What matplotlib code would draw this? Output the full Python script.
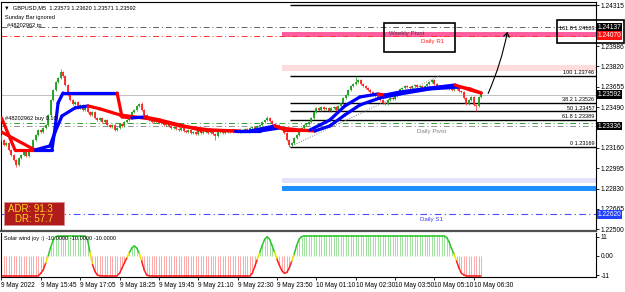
import matplotlib
matplotlib.use("Agg")
import matplotlib.pyplot as plt
from matplotlib.patches import Rectangle, FancyArrowPatch

plt.rcParams["font.family"] = ["Liberation Sans", "DejaVu Sans"]

W, H = 625, 292

# ---- candles (M5 closes, bar 0 = 9 May 14:25) ----
first_open = 1.23260
closes = [
    1.23224, 1.23184, 1.23200, 1.23143,
    1.23103, 1.23062, 1.23021, 1.23078,
    1.23103, 1.23127, 1.23094, 1.23143,
    1.23159, 1.23224, 1.23265, 1.23305,
    1.23289, 1.23322, 1.23346, 1.23427,
    1.23549, 1.23630, 1.23695, 1.23727,
    1.23776, 1.23743, 1.23670, 1.23589,
    1.23549, 1.23516, 1.23532, 1.23484,
    1.23508, 1.23468, 1.23484, 1.23451,
    1.23427, 1.23451, 1.23403, 1.23386,
    1.23403, 1.23370, 1.23386, 1.23346,
    1.23330, 1.23346, 1.23305, 1.23322,
    1.23354, 1.23338, 1.23370, 1.23386,
    1.23403, 1.23451, 1.23468, 1.23500,
    1.23516, 1.23468, 1.23427, 1.23403,
    1.23386, 1.23370, 1.23403, 1.23378,
    1.23362, 1.23378, 1.23346, 1.23354,
    1.23338, 1.23322, 1.23330, 1.23314,
    1.23305, 1.23322, 1.23297, 1.23289,
    1.23305, 1.23281, 1.23289, 1.23273,
    1.23297, 1.23281, 1.23289, 1.23305,
    1.23281, 1.23297, 1.23273, 1.23257,
    1.23289, 1.23297, 1.23281, 1.23289,
    1.23297, 1.23289, 1.23305, 1.23297,
    1.23289, 1.23305, 1.23297, 1.23314,
    1.23305, 1.23322, 1.23330, 1.23314,
    1.23338, 1.23346, 1.23370, 1.23386,
    1.23403, 1.23378, 1.23354, 1.23338,
    1.23346, 1.23330, 1.23322, 1.23281,
    1.23224, 1.23184, 1.23200, 1.23240,
    1.23265, 1.23305, 1.23322, 1.23346,
    1.23354, 1.23370, 1.23403, 1.23451,
    1.23484, 1.23468, 1.23492, 1.23476,
    1.23484, 1.23459, 1.23484, 1.23492,
    1.23468, 1.23500, 1.23524, 1.23565,
    1.23589, 1.23630, 1.23662, 1.23678,
    1.23695, 1.23711, 1.23678, 1.23662,
    1.23646, 1.23630, 1.23613, 1.23589,
    1.23581, 1.23565, 1.23549, 1.23524,
    1.23516, 1.23549, 1.23565, 1.23557,
    1.23581, 1.23613, 1.23638, 1.23646,
    1.23662, 1.23654, 1.23646, 1.23662,
    1.23670, 1.23654, 1.23662, 1.23646,
    1.23662, 1.23678, 1.23695, 1.23711,
    1.23678, 1.23662, 1.23654, 1.23646,
    1.23662, 1.23646, 1.23638, 1.23630,
    1.23638, 1.23646, 1.23622, 1.23613,
    1.23565, 1.23516, 1.23549, 1.23573,
    1.23508, 1.23500, 1.23573, 1.23592,
]
# long wicks
spike_bars = [6, 24, 57, 87, 108, 117, 144, 193, 195]
spike_prices = [1.23005, 1.23800, 1.23530, 1.23224, 1.23420, 1.23169, 1.23746, 1.23460, 1.23620]
wick = 0.00006

# ---- trend lines (vertices: bar, price, colour of segment) ----
fast_x = [0, 5.5, 13.6, 20.5, 21.8, 23, 25, 47, 49, 53, 58.3, 64.4, 80.7, 94.9, 101, 111.2,
          115.3, 125.4, 133.5, 139.6, 145.7, 153.1, 155.9, 162, 174.2, 184.4, 190.5, 195]
fast_y = [1.23403, 1.23143, 1.23143, 1.23143, 1.23322, 1.23524, 1.23605, 1.23605, 1.23411,
          1.23403, 1.23411, 1.23386, 1.23305, 1.23297, 1.23297, 1.23338, 1.23305, 1.23305,
          1.23386, 1.23500, 1.23573, 1.23597, 1.23589, 1.23613, 1.23646, 1.23670, 1.23630, 1.23605]
fast_c = "rrrbbbbbrrbrrrbbrrbbbbrbbbrr"
slow_x = [0, 13.6, 19.7, 21.8, 24.6, 29.9, 35.2, 40.1, 48.2, 60.4, 72.6, 84.8, 97, 105.1,
          113.2, 121.3, 127.4, 133.5, 139.6, 145.7, 153.9, 162, 174.2, 186.4, 190.5, 195]
slow_y = [1.23289, 1.23143, 1.23176, 1.23289, 1.23419, 1.23484, 1.23500, 1.23476, 1.23427,
          1.23395, 1.23338, 1.23305, 1.23297, 1.23297, 1.23322, 1.23305, 1.23297, 1.23338,
          1.23427, 1.23508, 1.23565, 1.23597, 1.23638, 1.23654, 1.23638, 1.23605]
slow_c = "rrbbbbbrrrrrrbbrrbbbbbbbrr"

# ---- levels ----
fib_names = ["100", "38.2", "50", "61.8", "0"]
fib_levels = [1.23746, 1.23526, 1.23457, 1.23389, 1.23169]
fib_top = 1.24317
fib_anchor_x = [117.3, 178.3]
fib_anchor_y = [1.23169, 1.23746]
tp_level = 1.24137
r1_level = 1.24070
bid_level = 1.23592
order_level = 1.23358
pivot_level = 1.23336
s1_level = 1.22620
zones = [(1.24060, 1.24100, "#ff5f9f"), (1.23784, 1.23832, "#ffdcdc"),
         (1.22875, 1.22916, "#e2e2fa"), (1.22813, 1.22854, "#1e8fff")]
price_ticks = [1.24315, 1.23986, 1.23820, 1.23655, 1.23490, 1.23160, 1.22995, 1.22830,
               1.22665, 1.22500]

# ---- Solar wind joy ----
solar = ([-11.4] * 16 + [-10, -8, -4, 0, 5, 9, 11] + [11.4] * 12 + [9, 2, -5, -9, -11]
         + [-11.4] * 8 + [-10, -7, -4, -1, 2, 4.5, 5.7, 4.5, 1.5, -3, -8, -11]
         + [-11.4] * 42
         + [-10, -6, -2, 2, 6, 9.5, 11, 9.5, 6, 2, -2, -5.5, -8.5, -10, -9.5, -7, -3, 1, 6, 9.5, 11]
         + [11.4] * 58 + [10.5, 8, 4, 1, -3, -7, -10, -11] + [-11.4] * 7)

time_labels = ["9 May 2022", "9 May 15:45", "9 May 17:05", "9 May 18:25", "9 May 19:45",
               "9 May 21:10", "9 May 22:30", "9 May 23:50", "10 May 01:10", "10 May 02:30",
               "10 May 03:50", "10 May 05:10", "10 May 06:30"]
time_bars = [0, 16, 32, 48, 64, 80, 96, 112, 128, 144, 160, 176, 192]

FS = 4.8      # axis labels
FT = 4.1      # small chart texts
fig = plt.figure(figsize=(W / 100, H / 100), dpi=100)
fig.patch.set_facecolor("white")


def fx(px):
    return px / W


def fy(py):
    return 1 - py / H


XL, XR = -0.4, 241.7
ax = fig.add_axes([fx(0.5), fy(231), 595.5 / W, 229 / H])
ind = fig.add_axes([fx(0.5), fy(277.3), 595.5 / W, 44.3 / H])
ax.set_xlim(XL, XR)
ax.set_ylim(1.22486, 1.24343)
ind.set_xlim(XL, XR)
ind.set_ylim(-12.3, 13.1)

# zones and levels
for lo, hi, col in zones:
    ax.fill_between([114.0, XR], lo, hi, color=col, lw=0, zorder=1)
dd = (6, 3, 1, 3)
ax.axhline(bid_level, color="#c0c0c0", lw=0.7, zorder=1)
ax.axhline(tp_level, color="#606060", lw=0.7, dashes=dd, zorder=2)
ax.axhline(r1_level, color="#ff3030", lw=0.7, dashes=dd, zorder=2)
ax.axhline(order_level, color="#30a030", lw=0.7, dashes=dd, zorder=2)
ax.axhline(pivot_level, color="#909090", lw=0.7, dashes=dd, zorder=2)
ax.axhline(s1_level, color="#4a4aff", lw=0.8, dashes=dd, zorder=2)
ax.hlines(fib_levels + [fib_top], 117.3, XR, color="black", lw=1.0, zorder=2)
ax.plot(fib_anchor_x, fib_anchor_y, color="#808080", lw=0.7, ls=(0, (1, 1.5)), zorder=2)

# candles
opens = [first_open] + closes[:-1]
for i, (o, c) in enumerate(zip(opens, closes)):
    col = "#1c9e1c" if c >= o else "#ff2020"
    hi = max(o, c) + wick
    lo = min(o, c) - wick
    if i in spike_bars:
        s = spike_prices[spike_bars.index(i)]
        hi = max(hi, s)
        lo = min(lo, s)
    ax.vlines(i, lo, hi, color=col, lw=0.5, zorder=3)
    ax.vlines(i, min(o, c), max(o, c) + 0.00002, color=col, lw=1.3, zorder=3)

# trend lines
for xs, ys, cs in [(slow_x, slow_y, slow_c), (fast_x, fast_y, fast_c)]:
    for k in range(1, len(xs)):
        ax.plot(xs[k - 1:k + 1], ys[k - 1:k + 1], color="#0000ff" if cs[k] == "b" else "#ff0000",
                lw=2.3, solid_capstyle="round", zorder=4)

# arrow drawn on chart
ax.add_patch(FancyArrowPatch((197.4, 1.23581), (205.9, 1.24124), arrowstyle="->,head_length=3,head_width=2",
                             connectionstyle="arc3,rad=0.06", color="black", lw=0.8, zorder=5))

# fib labels
for name, lv in zip(fib_names, fib_levels):
    ax.text(241.0, lv + 0.00004, f"{name} {lv:.5f}", fontsize=4.0, ha="right", va="bottom", zorder=5)
fig.text(fx(595), fy(28), "161.8 1.24183", fontsize=4.0, ha="right", va="center")

# axes styling
for a in (ax, ind):
    for s in a.spines.values():
        s.set_color("black")
        s.set_linewidth(0.8)
    a.yaxis.tick_right()
    a.tick_params(axis="y", length=2.5, width=0.6, labelsize=FS, pad=1)
ax.spines["bottom"].set_color("#505050")
ax.spines["bottom"].set_linewidth(1.6)
ind.spines["top"].set_visible(False)
ax.set_xticks([])
ax.set_yticks(price_ticks)
ax.set_yticklabels([f"{p:.5f}" for p in price_ticks])
ind.set_yticks([11, 0, -11])
ind.set_yticklabels(["11", "0.00", "-11"])
ind.set_xticks(time_bars)
ind.set_xticklabels(time_labels, ha="left")
ind.tick_params(axis="x", length=2, width=0.6, labelsize=4.7, pad=1.5)

# highlighted price labels
for lv, bg in [(tp_level, "black"), (r1_level, "#ff1010"), (bid_level, "black"),
               (pivot_level, "black"), (s1_level, "#2040ff")]:
    ax.text(1.003, lv, f"{lv:.5f}", transform=ax.get_yaxis_transform(), fontsize=FS,
            color="white", va="center", ha="left", clip_on=False, zorder=6,
            bbox=dict(boxstyle="square,pad=0.12", fc=bg, ec="none"))

# indicator
for i, v in enumerate(solar):
    ind.vlines(i, 0, v, color="#8fdc8f" if v > 0 else "#ff9a9a", lw=0.6)
for k in range(1, len(solar)):
    m = (solar[k - 1] + solar[k]) / 2
    col = "#2ec42e" if m > 2 else ("#ff2020" if m < -2 else "#e6e600")
    ind.plot([k - 1, k], solar[k - 1:k + 1], color=col, lw=1.1, solid_capstyle="round")
fig.text(fx(4), fy(238.5), "Solar wind joy :) -10.0000 -10.0000 -10.0000", fontsize=FT, va="center")

# header texts
fig.text(fx(4), fy(8), "\u25bc  GBPUSD,M5  1.23573 1.23620 1.23571 1.23592", fontsize=FT, va="center")
fig.text(fx(5), fy(17), "Sunday Bar ignored", fontsize=FT, va="center")
fig.text(fx(7), fy(26), "#48202962 tp", fontsize=FT, va="center")
fig.text(fx(5), fy(118), "#48202962 buy 0.10", fontsize=FT, va="center")

# pivot names
fig.text(fx(389), fy(34), "Weekly Pivot", fontsize=4.4, color="#5a3048", va="center")
fig.text(fx(421), fy(42), "Daily R1", fontsize=4.4, color="#ff2020", va="center")
fig.text(fx(417), fy(131), "Daily Pivot", fontsize=4.4, color="#808080", va="center")
fig.text(fx(420), fy(219), "Daily S1", fontsize=4.4, color="#3a3aff", va="center")

# drawn boxes
for (x0, y0, x1, y1) in [(384, 23, 455, 52), (557, 20, 624, 43)]:
    fig.add_artist(Rectangle((fx(x0), fy(y1)), (x1 - x0) / W, (y1 - y0) / H, transform=fig.transFigure,
                             fill=False, ec="black", lw=1.2, zorder=10))

# ADR box
fig.add_artist(Rectangle((fx(4), fy(225)), 60 / W, 23 / H, transform=fig.transFigure,
                         fc="#b01c1c", ec="#d89090", lw=0.6, zorder=10))
fig.text(fx(8), fy(209), "ADR: 91.3", fontsize=7, color="#ffd21f", va="center", zorder=11)
fig.text(fx(15), fy(219.5), "DR: 57.7", fontsize=7, color="#ffd21f", va="center", zorder=11)

fig.savefig("out.png", dpi=100)
